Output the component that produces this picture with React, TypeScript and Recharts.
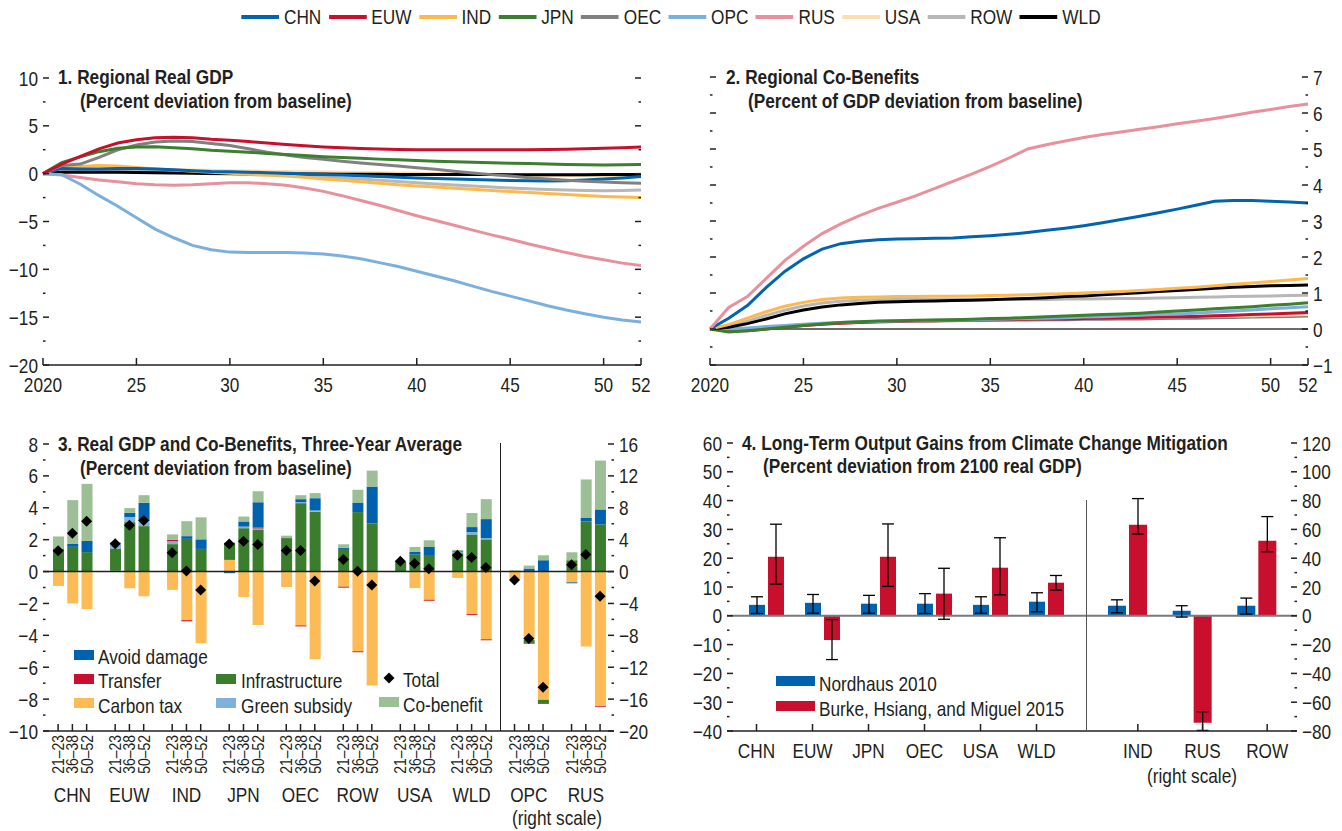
import React from 'react';
import { LineChart, Line, XAxis, YAxis, ComposedChart, Bar, ErrorBar, ReferenceLine } from 'recharts';

// no condensed face is installed, so Arial-metric text is squeezed horizontally
const FONT = "'Liberation Sans', Arial, sans-serif";
const SX = 0.82;
const INK = '#231f20';

// ---- panels 1 & 2: annual paths ----
const years = [2020, 2021, 2022, 2023, 2024, 2025, 2026, 2027, 2028, 2029, 2030, 2031, 2032, 2033, 2034, 2035, 2036, 2037, 2038, 2039, 2040, 2041, 2042, 2043, 2044, 2045, 2046, 2047, 2048, 2049, 2050, 2051, 2052];
const yearTicks = [2020, 2025, 2030, 2035, 2040, 2045, 2050, 2052];
const yearTickLabels = ['2020', '25', '30', '35', '40', '45', '50', '52'];

const regions = ['CHN', 'EUW', 'IND', 'JPN', 'OEC', 'OPC', 'RUS', 'USA', 'ROW', 'WLD'];
const regionColors: Record<string, string> = {
  CHN: '#0064b0', EUW: '#c8102e', IND: '#fdb94e', JPN: '#3b7f2f', OEC: '#808080',
  OPC: '#7bafde', RUS: '#e8909b', USA: '#fddfaf', ROW: '#b7b7b7', WLD: '#000000',
};

// 1. Regional real GDP, % deviation from baseline
const gdpCHN = [0, 0.55, 0.5, 0.5, 0.55, 0.55, 0.5, 0.4, 0.3, 0.22, 0.2, 0.15, 0.1, 0.05, 0, -0.08, -0.15, -0.22, -0.3, -0.37, -0.45, -0.5, -0.55, -0.6, -0.65, -0.72, -0.75, -0.76, -0.73, -0.66, -0.56, -0.45, -0.3];
const gdpEUW = [0, 1.0, 1.8, 2.6, 3.2, 3.55, 3.75, 3.8, 3.75, 3.6, 3.5, 3.35, 3.2, 3.05, 2.92, 2.8, 2.7, 2.62, 2.57, 2.53, 2.5, 2.5, 2.5, 2.5, 2.5, 2.5, 2.5, 2.52, 2.55, 2.6, 2.65, 2.72, 2.8];
const gdpIND = [0, 0.7, 0.75, 0.85, 0.8, 0.65, 0.5, 0.38, 0.25, 0.15, 0.05, -0.05, -0.15, -0.25, -0.38, -0.55, -0.7, -0.85, -1.0, -1.15, -1.28, -1.4, -1.52, -1.64, -1.75, -1.87, -1.98, -2.08, -2.18, -2.28, -2.38, -2.45, -2.5];
const gdpJPN = [0, 1.15, 1.75, 2.3, 2.65, 2.8, 2.82, 2.7, 2.6, 2.45, 2.35, 2.25, 2.1, 2.0, 1.9, 1.78, 1.68, 1.6, 1.52, 1.45, 1.38, 1.3, 1.25, 1.2, 1.15, 1.1, 1.05, 1.0, 0.97, 0.93, 0.9, 0.93, 0.97];
const gdpOEC = [0, 0.85, 1.0, 1.7, 2.5, 3.0, 3.3, 3.42, 3.35, 3.15, 2.95, 2.6, 2.25, 1.95, 1.7, 1.5, 1.3, 1.12, 0.95, 0.8, 0.62, 0.45, 0.25, 0.08, -0.1, -0.25, -0.42, -0.57, -0.7, -0.8, -0.88, -0.95, -1.0];
const gdpOPC = [0, -0.1, -1.1, -2.3, -3.4, -4.6, -5.8, -6.7, -7.5, -7.95, -8.2, -8.25, -8.25, -8.25, -8.3, -8.4, -8.6, -8.9, -9.3, -9.7, -10.2, -10.7, -11.2, -11.75, -12.3, -12.8, -13.3, -13.8, -14.25, -14.65, -15.0, -15.3, -15.5];
const gdpRUS = [0, -0.15, -0.4, -0.65, -0.85, -1.05, -1.15, -1.2, -1.15, -1.05, -0.95, -0.95, -1.05, -1.2, -1.5, -1.85, -2.3, -2.8, -3.3, -3.85, -4.4, -4.9, -5.4, -5.9, -6.4, -6.85, -7.35, -7.8, -8.25, -8.65, -9.0, -9.35, -9.6];
const gdpUSA = [0, 0.4, 0.45, 0.5, 0.5, 0.5, 0.45, 0.4, 0.38, 0.35, 0.3, 0.28, 0.25, 0.22, 0.2, 0.18, 0.15, 0.12, 0.1, 0.08, 0.05, 0.02, 0, -0.03, -0.06, -0.1, -0.13, -0.16, -0.2, -0.22, -0.25, -0.25, -0.25];
const gdpROW = [0, 0.3, 0.3, 0.3, 0.35, 0.35, 0.3, 0.2, 0.1, 0, -0.05, -0.1, -0.15, -0.2, -0.25, -0.35, -0.45, -0.55, -0.68, -0.82, -0.95, -1.07, -1.18, -1.3, -1.4, -1.5, -1.58, -1.65, -1.7, -1.75, -1.78, -1.76, -1.72];
const gdpWLD = [0, 0.15, 0.15, 0.15, 0.15, 0.12, 0.1, 0.08, 0.05, 0.03, 0.02, 0, 0, -0.02, -0.03, -0.04, -0.05, -0.06, -0.07, -0.08, -0.09, -0.1, -0.1, -0.1, -0.1, -0.12, -0.12, -0.12, -0.12, -0.12, -0.1, -0.1, -0.1];

// 2. Regional co-benefits, % of GDP
const cbCHN = [0, 0.3, 0.65, 1.15, 1.6, 1.95, 2.22, 2.37, 2.44, 2.48, 2.5, 2.51, 2.52, 2.53, 2.56, 2.59, 2.63, 2.68, 2.74, 2.8, 2.87, 2.95, 3.04, 3.13, 3.23, 3.33, 3.44, 3.55, 3.57, 3.57, 3.55, 3.53, 3.5];
const cbEUW = [0, -0.05, -0.05, 0, 0.05, 0.1, 0.13, 0.16, 0.18, 0.2, 0.21, 0.22, 0.23, 0.24, 0.25, 0.26, 0.26, 0.27, 0.28, 0.28, 0.29, 0.3, 0.31, 0.32, 0.33, 0.34, 0.35, 0.37, 0.38, 0.4, 0.42, 0.44, 0.46];
const cbIND = [0, 0.12, 0.3, 0.48, 0.63, 0.74, 0.82, 0.86, 0.88, 0.89, 0.9, 0.9, 0.91, 0.91, 0.92, 0.93, 0.94, 0.95, 0.97, 0.98, 1.0, 1.02, 1.04, 1.07, 1.1, 1.13, 1.16, 1.2, 1.24, 1.28, 1.32, 1.36, 1.4];
const cbJPN = [0, -0.08, -0.05, 0, 0.05, 0.1, 0.14, 0.18, 0.2, 0.22, 0.23, 0.24, 0.25, 0.26, 0.27, 0.29, 0.3, 0.32, 0.34, 0.36, 0.38, 0.4, 0.42, 0.44, 0.47, 0.5, 0.53, 0.56, 0.59, 0.62, 0.66, 0.69, 0.73];
const cbOEC = [0, -0.03, 0, 0.05, 0.08, 0.12, 0.15, 0.17, 0.19, 0.2, 0.21, 0.22, 0.22, 0.23, 0.24, 0.24, 0.25, 0.25, 0.26, 0.26, 0.27, 0.27, 0.28, 0.28, 0.29, 0.3, 0.3, 0.31, 0.32, 0.33, 0.34, 0.35, 0.36];
const cbOPC = [0, 0, 0.03, 0.07, 0.1, 0.13, 0.16, 0.18, 0.2, 0.21, 0.22, 0.23, 0.24, 0.25, 0.26, 0.27, 0.28, 0.29, 0.3, 0.31, 0.33, 0.34, 0.36, 0.38, 0.4, 0.42, 0.44, 0.47, 0.5, 0.53, 0.56, 0.59, 0.62];
const cbRUS = [0, 0.6, 0.9, 1.4, 1.9, 2.3, 2.65, 2.92, 3.15, 3.35, 3.52, 3.7, 3.9, 4.1, 4.3, 4.52, 4.75, 5.0, 5.12, 5.22, 5.32, 5.4, 5.47, 5.55, 5.62, 5.7, 5.77, 5.85, 5.93, 6.02, 6.1, 6.18, 6.25];
const cbUSA = [0, -0.02, 0.02, 0.06, 0.1, 0.13, 0.16, 0.18, 0.2, 0.21, 0.22, 0.23, 0.24, 0.25, 0.26, 0.27, 0.28, 0.28, 0.29, 0.3, 0.3, 0.31, 0.32, 0.32, 0.33, 0.34, 0.35, 0.36, 0.36, 0.37, 0.38, 0.39, 0.4];
const cbROW = [0, 0.08, 0.22, 0.38, 0.52, 0.64, 0.72, 0.77, 0.8, 0.81, 0.82, 0.82, 0.82, 0.82, 0.82, 0.82, 0.82, 0.82, 0.82, 0.83, 0.83, 0.84, 0.85, 0.85, 0.86, 0.87, 0.88, 0.89, 0.9, 0.91, 0.92, 0.93, 0.94];
const cbWLD = [0, 0.05, 0.15, 0.28, 0.42, 0.53, 0.61, 0.67, 0.71, 0.74, 0.76, 0.77, 0.78, 0.79, 0.8, 0.81, 0.83, 0.85, 0.87, 0.9, 0.92, 0.95, 0.98, 1.01, 1.04, 1.07, 1.1, 1.13, 1.16, 1.18, 1.2, 1.21, 1.22];

const gdpSeries: Record<string, number[]> = { CHN: gdpCHN, EUW: gdpEUW, IND: gdpIND, JPN: gdpJPN, OEC: gdpOEC, OPC: gdpOPC, RUS: gdpRUS, USA: gdpUSA, ROW: gdpROW, WLD: gdpWLD };
const cbSeries: Record<string, number[]> = { CHN: cbCHN, EUW: cbEUW, IND: cbIND, JPN: cbJPN, OEC: cbOEC, OPC: cbOPC, RUS: cbRUS, USA: cbUSA, ROW: cbROW, WLD: cbWLD };

const p1Ticks = [-20, -17.5, -15, -12.5, -10, -7.5, -5, -2.5, 0, 2.5, 5, 7.5, 10];
const p2Ticks = [-1, -0.5, 0, 0.5, 1, 1.5, 2, 2.5, 3, 3.5, 4, 4.5, 5, 5.5, 6, 6.5, 7];

// ---- panel 3: three-year averages (OPC and RUS on the right scale) ----
const periods = ['21–23', '36–38', '50–52'];
const p3LeftGroups = ['CHN', 'EUW', 'IND', 'JPN', 'OEC', 'ROW', 'USA', 'WLD'];
const p3RightGroups = ['OPC', 'RUS'];

const carbonTax: Record<string, number[]> = {
  CHN: [-0.9, -2.0, -2.35], EUW: [0.05, -1.05, -1.55], IND: [-1.15, -3.05, -4.5], JPN: [0.73, -1.6, -3.35],
  OEC: [-0.97, -3.38, -5.5], ROW: [-0.95, -5.0, -7.15], USA: [0, -1.03, -1.77], WLD: [-0.4, -2.67, -4.25],
  OPC: [-1.0, -8.6, -16.1], RUS: [-1.35, -9.4, -16.8],
};
const infrastructure: Record<string, number[]> = {
  CHN: [1.45, 1.55, 1.22], EUW: [1.4, 3.1, 2.85], IND: [1.72, 2.05, 1.42], JPN: [1.08, 2.72, 2.6],
  OEC: [2.1, 4.29, 3.75], ROW: [1.42, 3.73, 3.02], USA: [0.62, 1.06, 1.04], WLD: [1.15, 2.33, 2.02],
  OPC: [0, -0.35, -0.4], RUS: [1.42, 6.3, 5.92],
};
const greenSubsidy: Record<string, number[]> = {
  CHN: [0, 0, 0], EUW: [0.38, 0.32, 0.32], IND: [0.18, 0, 0], JPN: [0, 0.1, 0.1],
  OEC: [0, 0.06, 0.08], ROW: [0, 0, 0], USA: [0, 0, 0], WLD: [0.1, 0.15, 0.08],
  OPC: [0, 0.08, 0], RUS: [0, 0, -0.1],
};
const transfer: Record<string, number[]> = {
  CHN: [0, 0, 0], EUW: [0, 0, 0], IND: [0.1, -0.07, 0], JPN: [0, 0, 0.07],
  OEC: [0, -0.06, 0], ROW: [-0.06, -0.06, 0], USA: [0, 0, -0.06], WLD: [0, -0.06, -0.06],
  OPC: [0, -0.1, -0.1], RUS: [0, 0, -0.1],
};
const avoidDamage: Record<string, number[]> = {
  CHN: [0, 0.18, 0.7], EUW: [0, 0.27, 1.14], IND: [0, 0.17, 0.6], JPN: [-0.1, 0.32, 1.58],
  OEC: [0, 0.19, 0.77], ROW: [0.06, 0.6, 2.31], USA: [0, 0.17, 0.5], WLD: [0.04, 0.31, 1.19],
  OPC: [0, 0.3, 1.42], RUS: [-0.12, 0.42, 1.87],
};
const coBenefit: Record<string, number[]> = {
  CHN: [0.75, 2.75, 3.58], EUW: [0, 0.29, 0.48], IND: [0.33, 0.94, 1.38], JPN: [0, 0.31, 0.69],
  OEC: [0.15, 0.25, 0.32], ROW: [0.23, 0.8, 1.0], USA: [0.05, 0.31, 0.42], WLD: [0.07, 0.88, 1.25],
  OPC: [0.15, 0.37, 0.62], RUS: [1.0, 4.83, 6.13],
};
const totalEffect: Record<string, number[]> = {
  CHN: [1.3, 2.4, 3.15], EUW: [1.75, 2.9, 3.2], IND: [1.18, 0.03, -1.15], JPN: [1.73, 1.9, 1.7],
  OEC: [1.32, 1.32, -0.6], ROW: [0.75, 0.02, -0.85], USA: [0.65, 0.5, 0.17], WLD: [1.02, 0.88, 0.25],
  OPC: [-1.05, -8.4, -14.5], RUS: [0.85, 2.15, -3.1],
};

const p3LeftTicks = [-10, -9, -8, -7, -6, -5, -4, -3, -2, -1, 0, 1, 2, 3, 4, 5, 6, 7, 8];
const p3RightTicks = [-20, -18, -16, -14, -12, -10, -8, -6, -4, -2, 0, 2, 4, 6, 8, 10, 12, 14, 16];

// stacking order, bottom up
const p3Components = [
  { key: 'carbon', name: 'Carbon tax', color: '#fdbb55', data: carbonTax },
  { key: 'infra', name: 'Infrastructure', color: '#3a7d2c', data: infrastructure },
  { key: 'green', name: 'Green subsidy', color: '#7eb2dd', data: greenSubsidy },
  { key: 'transfer', name: 'Transfer', color: '#c8102e', data: transfer },
  { key: 'avoid', name: 'Avoid damage', color: '#0061af', data: avoidDamage },
  { key: 'cobenefit', name: 'Co-benefit', color: '#9cbf95', data: coBenefit },
];

// ---- panel 4: long-term gains ----
const p4LeftCats = ['CHN', 'EUW', 'JPN', 'OEC', 'USA', 'WLD'];
const p4LeftNord = [3.8, 4.5, 4.2, 4.2, 3.8, 4.9];
const p4LeftNordLow = [0.8, 0.9, 0.9, 0.8, 0.9, 1.4];
const p4LeftNordHigh = [6.6, 7.4, 7.1, 7.7, 6.6, 8.0];
const p4LeftBurke = [20.5, -8.4, 20.5, 7.7, 16.7, 11.5];
const p4LeftBurkeLow = [11.0, -15.2, 10.2, -1.2, 7.3, 8.9];
const p4LeftBurkeHigh = [31.8, -1.3, 31.9, 16.5, 27.1, 14.0];
// right scale
const p4RightCats = ['IND', 'RUS', 'ROW'];
const p4RightNord = [7.0, 3.5, 7.0];
const p4RightNordLow = [2.1, -0.9, 1.2];
const p4RightNordHigh = [11.1, 7.0, 12.3];
const p4RightBurke = [63.3, -74.2, 52.2];
const p4RightBurkeLow = [56.8, -79.6, 44.5];
const p4RightBurkeHigh = [81.4, -66.6, 68.9];

const p4LeftTicks = [-40, -35, -30, -25, -20, -15, -10, -5, 0, 5, 10, 15, 20, 25, 30, 35, 40, 45, 50, 55, 60];
const p4RightTicks = [-80, -70, -60, -50, -40, -30, -20, -10, 0, 10, 20, 30, 40, 50, 60, 70, 80, 90, 100, 110, 120];

const BLUE = '#0061af';
const RED = '#c8102e';

// ---- tables ----
const p1Data = years.map((year, i) => {
  const row: any = { year };
  regions.forEach((r) => { row[r] = gdpSeries[r][i]; });
  return row;
});
const p2Data = years.map((year, i) => {
  const row: any = { year };
  regions.forEach((r) => { row[r] = cbSeries[r][i]; });
  return row;
});

const buildP3Rows = (groups: string[]) => {
  const rows: any[] = [];
  groups.forEach((g, gi) => {
    if (gi > 0) rows.push({ key: 'gap' + g, period: '', group: '' });
    periods.forEach((p, pi) => {
      const row: any = { key: g + pi, period: p, group: pi === 1 ? g : '', total: totalEffect[g][pi] };
      p3Components.forEach((c) => { row[c.key] = c.data[g][pi]; });
      rows.push(row);
    });
  });
  return rows;
};
const p3LeftRows = buildP3Rows(p3LeftGroups);
const p3RightRows = buildP3Rows(p3RightGroups);

const buildP4Rows = (cats: string[], nord: number[], nLo: number[], nHi: number[], burke: number[], bLo: number[], bHi: number[]) =>
  cats.map((c, i) => ({
    cat: c,
    nord: nord[i],
    nordErr: [nord[i] - nLo[i], nHi[i] - nord[i]],
    burke: burke[i],
    burkeErr: [burke[i] - bLo[i], bHi[i] - burke[i]],
  }));
const p4LeftRows = buildP4Rows(p4LeftCats, p4LeftNord, p4LeftNordLow, p4LeftNordHigh, p4LeftBurke, p4LeftBurkeLow, p4LeftBurkeHigh);
const p4RightRows = buildP4Rows(p4RightCats, p4RightNord, p4RightNordLow, p4RightNordHigh, p4RightBurke, p4RightBurkeLow, p4RightBurkeHigh);

// ---- svg text and ticks ----
const fmt = (v: number) => (v < 0 ? '\u2212' + Math.abs(v) : String(v));

const SText = ({ x, y, anchor = 'start', size = 21, rot = 0, dy, children }: any) => (
  <text transform={`translate(${x} ${y})${rot ? ` rotate(${rot})` : ''} scale(${SX} 1)`} x={0} y={0} dy={dy}
    textAnchor={anchor} fontSize={size} fontFamily={FONT} fill={INK}>{children}</text>
);

type TickOpts = { plotW: number; left: boolean; right: boolean; labelSide: 'left' | 'right' | 'none'; step: number };

const makeYTick = (o: TickOpts, orient: 'left' | 'right') => (p: any) => {
  const v = Number(p.payload.value);
  const major = Math.abs(v / o.step - Math.round(v / o.step)) < 1e-6;
  const len = major ? 6 : 2.5;
  const L = orient === 'left' ? p.x : p.x - o.plotW;
  const R = L + o.plotW;
  const y = p.y;
  return (
    <g>
      {o.left && <line x1={L} x2={L + len} y1={y} y2={y} stroke={INK} strokeWidth={1.5} />}
      {o.right && <line x1={R - len} x2={R} y1={y} y2={y} stroke={INK} strokeWidth={1.5} />}
      {major && o.labelSide === 'left' && <SText x={L - 5} y={y} dy="0.36em" anchor="end">{fmt(v)}</SText>}
      {major && o.labelSide === 'right' && <SText x={R + 5} y={y} dy="0.36em" anchor="start">{fmt(v)}</SText>}
    </g>
  );
};

const yearTick = (p: any) => {
  const i = yearTicks.indexOf(Number(p.payload.value));
  return (
    <g>
      <line x1={p.x} x2={p.x} y1={p.y} y2={p.y - 7} stroke={INK} strokeWidth={1.5} />
      <SText x={p.x} y={p.y + 27} anchor="middle">{yearTickLabels[i]}</SText>
    </g>
  );
};

const periodTick = (rows: any[]) => (p: any) => {
  const row = rows.find((r) => r.key === p.payload.value);
  if (!row || !row.period) return <g />;
  return (
    <g>
      <line x1={p.x} x2={p.x} y1={p.y} y2={p.y - 7} stroke={INK} strokeWidth={1.5} />
      <SText x={p.x + 6} y={p.y + 4} rot={-90} anchor="end" size={17}>{row.period}</SText>
      {row.group && <SText x={p.x} y={p.y + 71} anchor="middle">{row.group}</SText>}
    </g>
  );
};

const catTick = (offset: number) => (p: any) => (
  <g>
    <line x1={p.x + offset} x2={p.x + offset} y1={p.y} y2={p.y - 7} stroke={INK} strokeWidth={1.5} />
    <SText x={p.x + offset} y={p.y + 27} anchor="middle">{p.payload.value}</SText>
  </g>
);

const diamondDot = (p: any) => {
  if (p.cx == null || p.cy == null || p.payload?.total == null) return <g key={'d' + p.index} />;
  const s = 5.5;
  return <path key={'d' + p.index} d={`M${p.cx},${p.cy - s}L${p.cx + s},${p.cy}L${p.cx},${p.cy + s}L${p.cx - s},${p.cy}Z`} fill="#000" />;
};

// ---- html text helpers ----
const Txt = ({ x, y, children, bold, size = 21, center }: any) => (
  <div style={{
    position: 'absolute', left: x, top: y - 12, lineHeight: '24px', fontSize: size, fontWeight: bold ? 700 : 400,
    fontFamily: FONT, color: INK, whiteSpace: 'nowrap',
    transform: center ? `translateX(-50%) scaleX(${SX})` : `scaleX(${SX})`,
    transformOrigin: center ? 'center center' : 'left center',
  }}>{children}</div>
);
const Swatch = ({ x, y, w, h, color }: any) => (
  <div style={{ position: 'absolute', left: x, top: y, width: w, height: h, background: color }} />
);

const lineOrder1 = ['USA', 'ROW', 'WLD', 'IND', 'CHN', 'OEC', 'JPN', 'RUS', 'OPC', 'EUW'];
const lineOrder2 = ['OEC', 'USA', 'EUW', 'OPC', 'JPN', 'ROW', 'WLD', 'IND', 'CHN', 'RUS'];

const axisLine = { stroke: INK, strokeWidth: 1.5 };

export default function App() {
  return (
    <div style={{ position: 'absolute', left: 0, top: 0, width: 1342, height: 831, background: '#fff', overflow: 'hidden' }}>
      {/* legend */}
      <div style={{
        position: 'absolute', top: 5, left: 0, width: 1342, display: 'flex', justifyContent: 'center', gap: 9,
        fontFamily: FONT, fontSize: 21, lineHeight: '24px', color: INK, transform: `scaleX(${SX})`, transformOrigin: 'center center',
      }}>
        {regions.map((r) => (
          <div key={r} style={{ display: 'flex', alignItems: 'center' }}>
            <span style={{ display: 'inline-block', width: 46, height: 3.5, background: regionColors[r], marginRight: 6 }} />
            <span>{r}</span>
          </div>
        ))}
      </div>

      {/* panel 1 */}
      <div style={{ position: 'absolute', left: 0, top: 60 }}>
        <LineChart width={670} height={345} data={p1Data} margin={{ top: 18, right: 29, bottom: 0, left: 0 }}>
          <XAxis dataKey="year" type="number" domain={[2020, 2052]} ticks={yearTicks} interval={0} height={40}
            tickSize={0} tickMargin={0} tickLine={false} axisLine={axisLine} tick={yearTick} />
          <YAxis type="number" domain={[-20, 10]} ticks={p1Ticks} interval={0} width={43} axisLine={false}
            tickLine={false} tickSize={0} tickMargin={0}
            tick={makeYTick({ plotW: 598, left: true, right: true, labelSide: 'left', step: 5 }, 'left')} />
          {lineOrder1.map((r) => (
            <Line key={r} dataKey={r} stroke={regionColors[r]} strokeWidth={3} dot={false} activeDot={false} isAnimationActive={false} />
          ))}
        </LineChart>
      </div>
      <Txt x={58} y={77} bold>1. Regional Real GDP</Txt>
      <Txt x={80} y={101} bold>(Percent deviation from baseline)</Txt>

      {/* panel 2 */}
      <div style={{ position: 'absolute', left: 670, top: 60 }}>
        <LineChart width={672} height={345} data={p2Data} margin={{ top: 17, right: 0, bottom: 0, left: 40 }}>
          <XAxis dataKey="year" type="number" domain={[2020, 2052]} ticks={yearTicks} interval={0} height={40}
            tickSize={0} tickMargin={0} tickLine={false} axisLine={axisLine} tick={yearTick} />
          <YAxis orientation="right" type="number" domain={[-1, 7]} ticks={p2Ticks} interval={0} width={34} axisLine={false}
            tickLine={false} tickSize={0} tickMargin={0}
            tick={makeYTick({ plotW: 598, left: true, right: true, labelSide: 'right', step: 1 }, 'right')} />
          <ReferenceLine y={0} stroke="#6b6b6b" strokeWidth={2} />
          {lineOrder2.map((r) => (
            <Line key={r} dataKey={r} stroke={regionColors[r]} strokeWidth={3} dot={false} activeDot={false} isAnimationActive={false} />
          ))}
        </LineChart>
      </div>
      <Txt x={726} y={77} bold>2. Regional Co-Benefits</Txt>
      <Txt x={748} y={101} bold>(Percent of GDP deviation from baseline)</Txt>

      {/* panel 3 left scale */}
      <div style={{ position: 'absolute', left: 0, top: 420 }}>
        <ComposedChart width={500} height={411} data={p3LeftRows} margin={{ top: 24, right: 0, bottom: 0, left: 0 }} stackOffset="sign" barSize={11}>
          <XAxis dataKey="key" type="category" interval={0} height={100} padding={{ left: 8, right: 7 }}
            tickSize={0} tickMargin={0} tickLine={false} axisLine={axisLine} tick={periodTick(p3LeftRows)} />
          <YAxis type="number" domain={[-10, 8]} ticks={p3LeftTicks} interval={0} width={43} axisLine={false}
            tickLine={false} tickSize={0} tickMargin={0}
            tick={makeYTick({ plotW: 457, left: true, right: false, labelSide: 'left', step: 2 }, 'left')} />
          {p3Components.map((c) => (
            <Bar key={c.key} dataKey={c.key} name={c.name} stackId="s" fill={c.color} isAnimationActive={false} />
          ))}
          <ReferenceLine y={0} stroke={INK} strokeWidth={1.5} />
          <Line dataKey="total" stroke="none" dot={diamondDot} activeDot={false} isAnimationActive={false} />
        </ComposedChart>
      </div>
      {/* panel 3 right scale */}
      <div style={{ position: 'absolute', left: 500, top: 420 }}>
        <ComposedChart width={160} height={411} data={p3RightRows} margin={{ top: 24, right: 0, bottom: 0, left: 0 }} stackOffset="sign" barSize={11}>
          <XAxis dataKey="key" type="category" interval={0} height={100} padding={{ left: 7.4, right: 6.8 }}
            tickSize={0} tickMargin={0} tickLine={false} axisLine={axisLine} tick={periodTick(p3RightRows)} />
          <YAxis orientation="right" type="number" domain={[-20, 16]} ticks={p3RightTicks} interval={0} width={46} axisLine={false}
            tickLine={false} tickSize={0} tickMargin={0}
            tick={makeYTick({ plotW: 114, left: false, right: true, labelSide: 'right', step: 4 }, 'right')} />
          {p3Components.map((c) => (
            <Bar key={c.key} dataKey={c.key} name={c.name} stackId="s" fill={c.color} isAnimationActive={false} />
          ))}
          <ReferenceLine y={0} stroke={INK} strokeWidth={1.5} />
          <Line dataKey="total" stroke="none" dot={diamondDot} activeDot={false} isAnimationActive={false} />
        </ComposedChart>
      </div>
      <div style={{ position: 'absolute', left: 500, top: 443, width: 1, height: 288, background: INK }} />
      <Txt x={58} y={444} bold>3. Real GDP and Co-Benefits, Three-Year Average</Txt>
      <Txt x={80} y={468} bold>(Percent deviation from baseline)</Txt>
      <Txt x={557} y={818} center>(right scale)</Txt>
      {/* panel 3 legend */}
      <Swatch x={74} y={650} w={20} h={10} color="#0061af" />
      <Txt x={98} y={657}>Avoid damage</Txt>
      <Swatch x={74} y={674} w={20} h={10} color="#c8102e" />
      <Txt x={98} y={681}>Transfer</Txt>
      <Swatch x={74} y={698} w={20} h={10} color="#fdbb55" />
      <Txt x={98} y={706}>Carbon tax</Txt>
      <Swatch x={216} y={674} w={20} h={10} color="#3a7d2c" />
      <Txt x={241} y={681}>Infrastructure</Txt>
      <Swatch x={216} y={698} w={20} h={10} color="#7eb2dd" />
      <Txt x={241} y={706}>Green subsidy</Txt>
      <svg style={{ position: 'absolute', left: 383, top: 672 }} width={12} height={12}>
        <path d="M6,0.5L11.5,6L6,11.5L0.5,6Z" fill="#000" />
      </svg>
      <Txt x={403} y={680}>Total</Txt>
      <Swatch x={379} y={697} w={20} h={10} color="#9cbf95" />
      <Txt x={403} y={705}>Co-benefit</Txt>

      {/* panel 4 left scale */}
      <div style={{ position: 'absolute', left: 680, top: 420 }}>
        <ComposedChart width={406} height={411} data={p4LeftRows} margin={{ top: 23, right: 0, bottom: 0, left: 0 }} barSize={16} barGap={3}>
          <XAxis dataKey="cat" type="category" interval={0} height={100} padding={{ left: 11, right: 12 }}
            tickSize={0} tickMargin={0} tickLine={false} axisLine={axisLine} tick={catTick(-9.5)} />
          <YAxis type="number" domain={[-40, 60]} ticks={p4LeftTicks} interval={0} width={47} axisLine={false}
            tickLine={false} tickSize={0} tickMargin={0}
            tick={makeYTick({ plotW: 359, left: true, right: false, labelSide: 'left', step: 10 }, 'left')} />
          <ReferenceLine y={0} stroke="#7a7a7a" strokeWidth={2} />
          <Bar dataKey="nord" fill={BLUE} isAnimationActive={false}>
            <ErrorBar dataKey="nordErr" width={6} stroke="#000" strokeWidth={1.3} direction="y" />
          </Bar>
          <Bar dataKey="burke" fill={RED} isAnimationActive={false}>
            <ErrorBar dataKey="burkeErr" width={6} stroke="#000" strokeWidth={1.3} direction="y" />
          </Bar>
        </ComposedChart>
      </div>
      {/* panel 4 right scale */}
      <div style={{ position: 'absolute', left: 1086, top: 420 }}>
        <ComposedChart width={256} height={411} data={p4RightRows} margin={{ top: 23, right: 0, bottom: 0, left: 0 }} barSize={18} barGap={3}>
          <XAxis dataKey="cat" type="category" interval={0} height={100} padding={{ left: 9, right: 8 }}
            tickSize={0} tickMargin={0} tickLine={false} axisLine={axisLine} tick={catTick(10.5)} />
          <YAxis orientation="right" type="number" domain={[-80, 120]} ticks={p4RightTicks} interval={0} width={45} axisLine={false}
            tickLine={false} tickSize={0} tickMargin={0}
            tick={makeYTick({ plotW: 211, left: false, right: true, labelSide: 'right', step: 20 }, 'right')} />
          <ReferenceLine y={0} stroke="#7a7a7a" strokeWidth={2} />
          <Bar dataKey="nord" fill={BLUE} isAnimationActive={false}>
            <ErrorBar dataKey="nordErr" width={6} stroke="#000" strokeWidth={1.3} direction="y" />
          </Bar>
          <Bar dataKey="burke" fill={RED} isAnimationActive={false}>
            <ErrorBar dataKey="burkeErr" width={6} stroke="#000" strokeWidth={1.3} direction="y" />
          </Bar>
        </ComposedChart>
      </div>
      <div style={{ position: 'absolute', left: 1086, top: 500, width: 1, height: 231, background: '#555' }} />
      <Txt x={742} y={443} bold>4. Long-Term Output Gains from Climate Change Mitigation</Txt>
      <Txt x={763} y={466} bold>(Percent deviation from 2100 real GDP)</Txt>
      <Txt x={1192} y={776} center>(right scale)</Txt>
      <Swatch x={776} y={676} w={39} h={10} color={BLUE} />
      <Txt x={819} y={684}>Nordhaus 2010</Txt>
      <Swatch x={776} y={701} w={39} h={10} color={RED} />
      <Txt x={819} y={709}>Burke, Hsiang, and Miguel 2015</Txt>
    </div>
  );
}
